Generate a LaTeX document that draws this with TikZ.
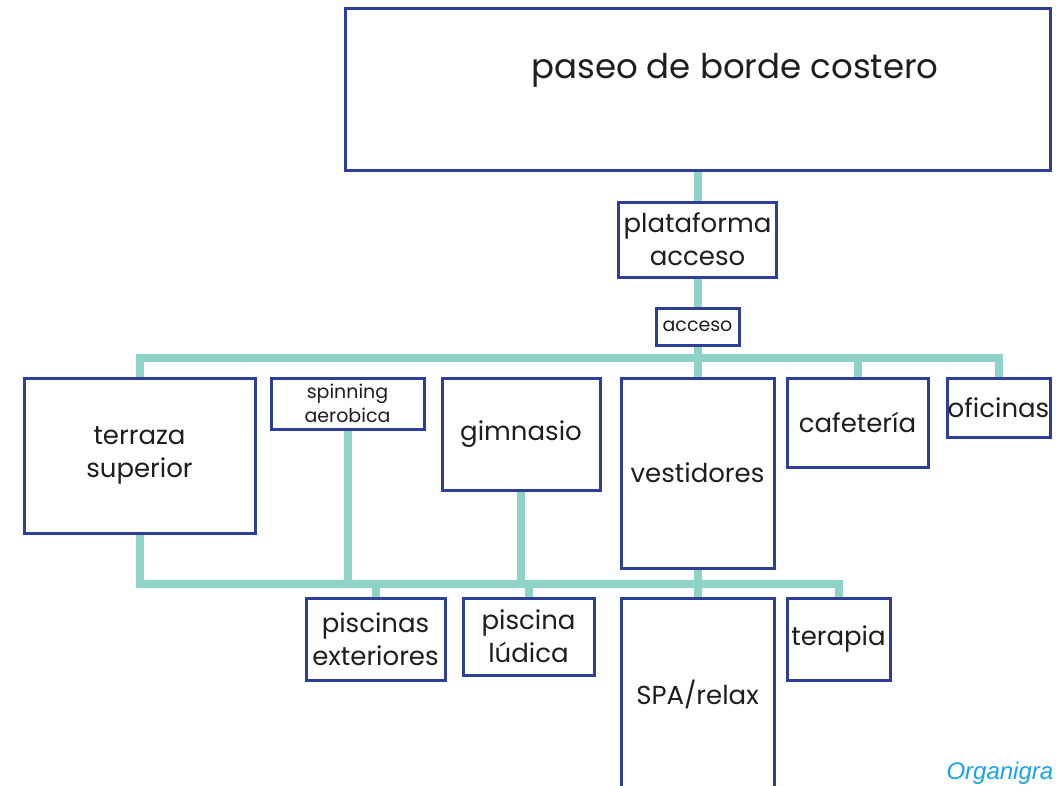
\documentclass[tikz,border=0pt]{standalone}
\usepackage{fontspec}
\setmainfont{Poppins}
\newfontfamily\captionfont{Liberation Sans}
\definecolor{boxblue}{HTML}{2E3F9B}
\definecolor{busteal}{HTML}{8ED3C7}
\definecolor{txtgray}{HTML}{1E1E1E}
\definecolor{capblue}{HTML}{1AA3E8}
\tikzset{
  box/.style={draw=boxblue, line width=3pt, fill=white, text=txtgray, align=center,
    inner sep=0pt, font=\fontsize{26}{33}\selectfont},
  smallbox/.style={box, font=\fontsize{19}{24}\selectfont},
  bus/.style={draw=busteal, line width=8pt},
}
\begin{document}
\begin{tikzpicture}[x=1pt, y=-1pt]
  \useasboundingbox[fill=white] (0,0) rectangle (1056,785);
  \clip (0,0) rectangle (1056,785);
  % top part
  \node[box, minimum width=705pt, minimum height=162pt] (paseo) at (697.5,89) {};
  \node[text=txtgray, font=\fontsize{34}{40}\selectfont] (paseoText) at (735,70) {paseo de borde costero};
  \node[box, minimum width=158pt, minimum height=75pt] (plat) at (697.5,239.5) {plataforma\\acceso};
  \node[smallbox, minimum width=83pt, minimum height=37pt] (acc) at (697.5,326.5) {acceso};
  % first row
  \node[box, minimum width=231pt, minimum height=155pt] (terr) at (139.5,455.5) {terraza\\superior};
  \node[smallbox, minimum width=153pt, minimum height=51pt] (spin) at (347.5,403.5) {spinning\\aerobica};
  \node[box, minimum width=158pt, minimum height=112pt] (gim) at (521,434) {gimnasio};
  \node[box, minimum width=153pt, minimum height=190pt] (vest) at (697.5,473) {vestidores};
  \node[box, minimum width=141pt, minimum height=89pt] (caf) at (857.5,422.5) {cafetería};
  \node[box, minimum width=103pt, minimum height=59pt] (ofi) at (998.5,407.5) {oficinas};
  % second row
  \node[box, minimum width=139pt, minimum height=82pt] (pisE) at (375.5,639) {piscinas\\exteriores};
  \node[box, minimum width=131pt, minimum height=77pt] (pisL) at (528.5,636.5) {piscina\\lúdica};
  \node[box, minimum width=153pt, minimum height=192pt] (spa) at (697.5,694) {SPA/relax};
  \node[box, minimum width=103pt, minimum height=82pt] (tera) at (838.5,639) {terapia};
  % connectors
  \coordinate (busT) at (697.5,358);
  \coordinate (busB) at (697.5,584);
  \draw[bus] (paseo.south) -- (plat.north);
  \draw[bus] (plat.south) -- (acc.north);
  \draw[bus] (acc.south) -- (vest.north);
  \draw[bus] (terr.north) |- (ofi.north |- busT) -- (ofi.north);
  \draw[bus] (caf.north |- busT) -- (caf.north);
  \draw[bus] (terr.south) |- (tera.north |- busB) -- (tera.north);
  \draw[bus] (spin.south) -- (spin.south |- busB);
  \draw[bus] (gim.south) -- (gim.south |- busB);
  \draw[bus] (vest.south) -- (spa.north);
  \draw[bus] (pisE.north |- busB) -- (pisE.north);
  \draw[bus] (pisL.north |- busB) -- (pisL.north);
  % caption
  \node[anchor=base west, text=capblue, font=\captionfont\itshape\fontsize{24}{28}\selectfont] (caption) at (943,779) {Organigra};
\end{tikzpicture}
\end{document}
